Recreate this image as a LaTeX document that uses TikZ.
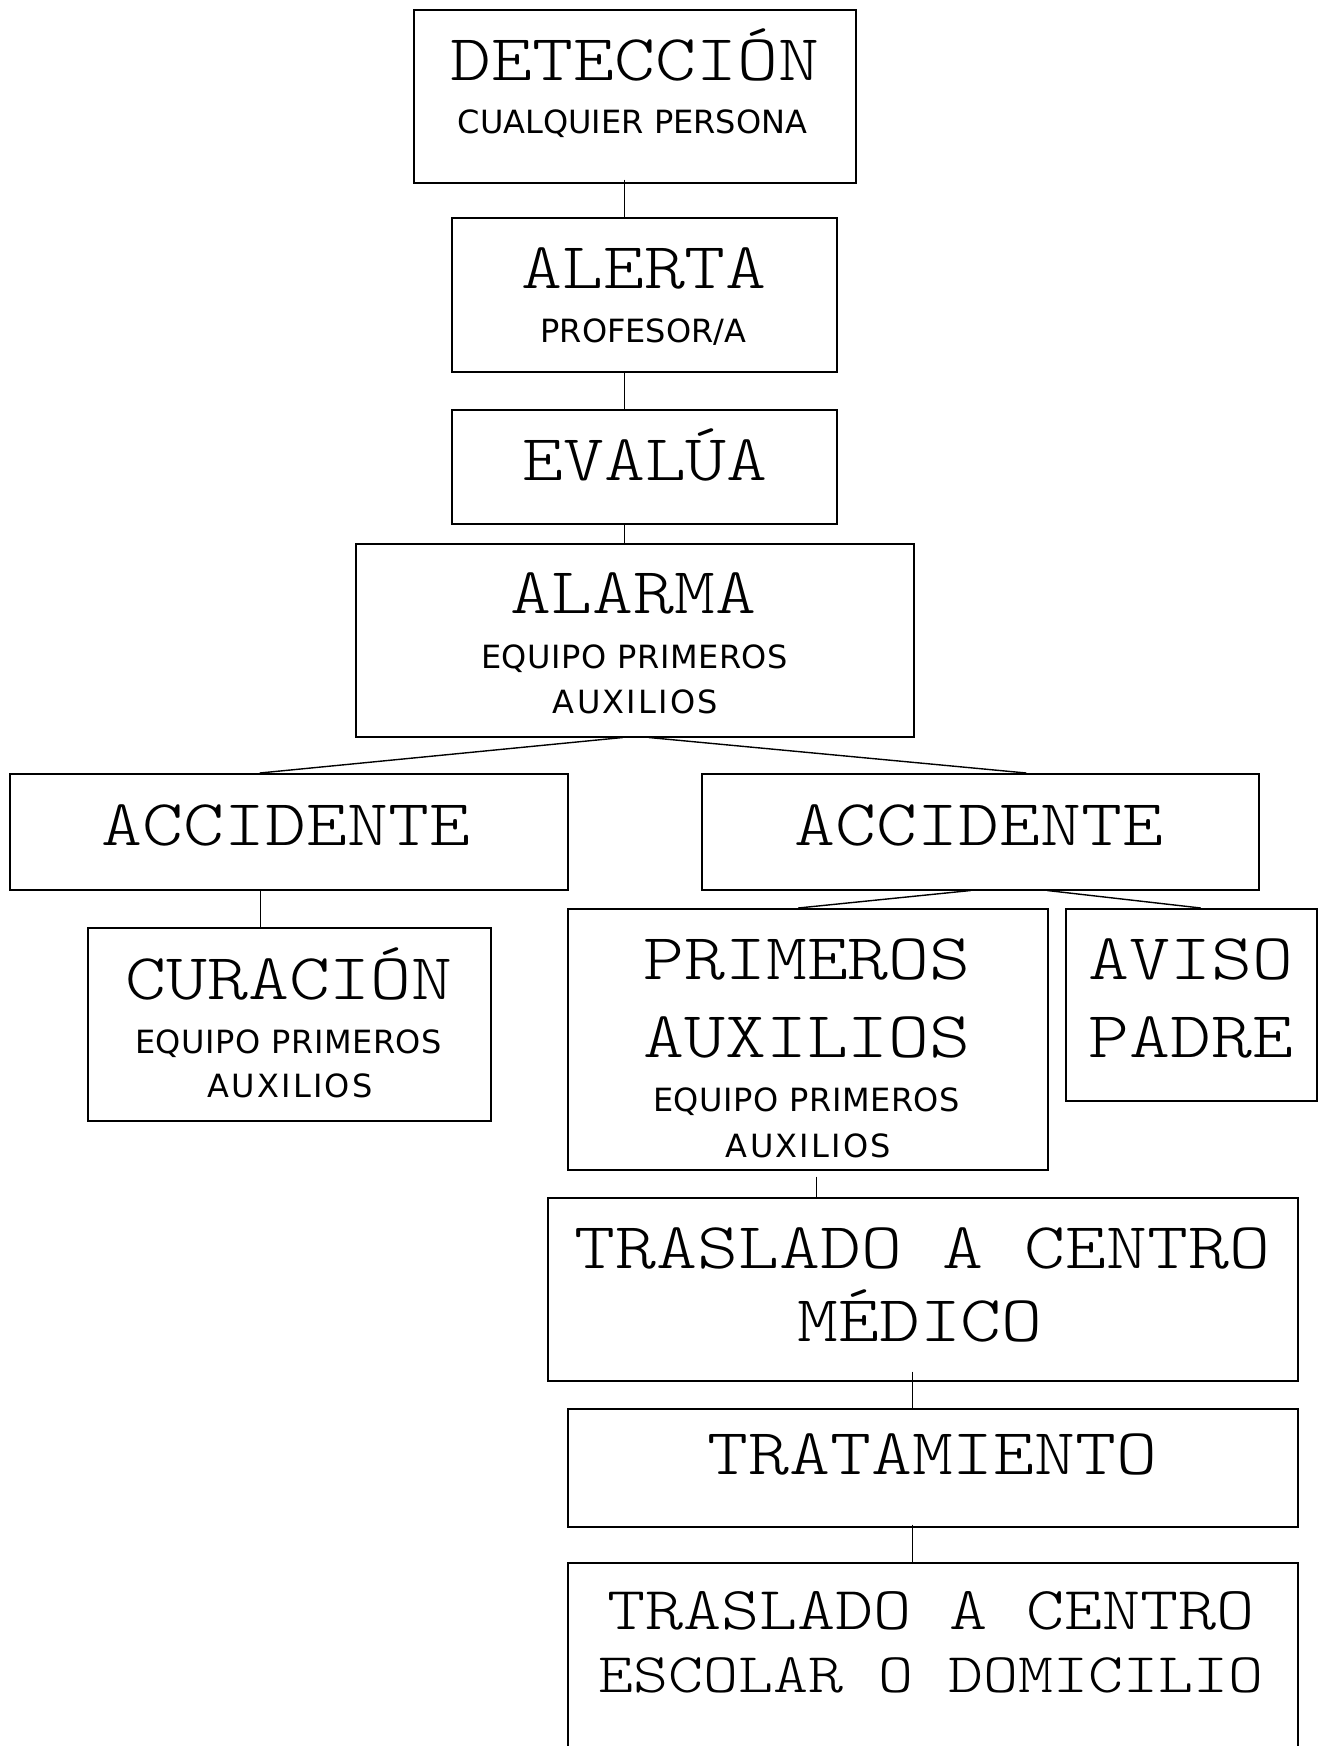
\documentclass[tikz,border=0pt]{standalone}
\usepackage{fontspec}
\newfontfamily\bigf[FakeStretch=1.19]{lmmonolt10-regular.otf}
\newfontfamily\smallf{DejaVu Sans}
\tikzset{
  box/.style={draw, line width=1.5pt, inner sep=0pt, anchor=north west},
  conn/.style={line width=1.4pt},
  big/.style={anchor=base, inner sep=0pt, font=\bigf\fontsize{65.5}{70}\selectfont},
  small/.style={anchor=base, inner sep=0pt, font=\smallf\fontsize{32}{34}\selectfont},
  wide/.style={font=\smallf\fontsize{32}{34}\selectfont\addfontfeature{LetterSpace=7}},
  eqp/.style={font=\smallf\fontsize{32}{34}\selectfont\addfontfeature{LetterSpace=1.8}},
}
\begin{document}
\begin{tikzpicture}[x=1pt,y=-1pt]
\useasboundingbox (0,0) rectangle (1325,1746);
\clip (0,0) rectangle (1325,1746);
% boxes
\node[box, minimum width=442pt, minimum height=173pt] (det) at (413,9) {};
\node[box, minimum width=385pt, minimum height=154pt] (alerta) at (451,217) {};
\node[box, minimum width=385pt, minimum height=114pt] (evalua) at (451,409) {};
\node[box, minimum width=558pt, minimum height=193pt] (alarma) at (355,543) {};
\node[box, minimum width=558pt, minimum height=116pt] (accL) at (9,773) {};
\node[box, minimum width=557pt, minimum height=116pt] (accR) at (701,773) {};
\node[box, minimum width=403pt, minimum height=193pt] (cura) at (87,927) {};
\node[box, minimum width=480pt, minimum height=261pt] (prim) at (567,908) {};
\node[box, minimum width=251pt, minimum height=192pt] (aviso) at (1065,908) {};
\node[box, minimum width=750pt, minimum height=183pt] (tras) at (547,1197) {};
\node[box, minimum width=730pt, minimum height=118pt] (trat) at (567,1408) {};
\node[box, minimum width=730pt, minimum height=240pt] (tras2) at (567,1562) {};
% texts
\node[big] (t-det) at (635,80) {DETECCIÓN};
\node[small] (s-det) at (632.5,133) {CUALQUIER PERSONA};
\node[big] (t-alerta) at (644,288) {ALERTA};
\node[small] (s-alerta) at (643.5,342) {PROFESOR/A};
\node[big] (t-evalua) at (645,480) {EVALÚA};
\node[big] (t-alarma) at (633.5,613) {ALARMA};
\node[small, eqp] (s-alarma1) at (634.5,668) {EQUIPO PRIMEROS};
\node[small, wide] (s-alarma2) at (635.5,713) {AUXILIOS};
\node[big] (t-accL) at (286,845) {ACCIDENTE};
\node[big] (t-accR) at (979,845) {ACCIDENTE};
\node[big] (t-cura) at (289,999) {CURACIÓN};
\node[small, eqp] (s-cura1) at (288.5,1053) {EQUIPO PRIMEROS};
\node[small, wide] (s-cura2) at (290,1097) {AUXILIOS};
\node[big] (t-prim1) at (807,979) {PRIMEROS};
\node[big] (t-prim2) at (807,1057) {AUXILIOS};
\node[small, eqp] (s-prim1) at (806.5,1111) {EQUIPO PRIMEROS};
\node[small, wide] (s-prim2) at (808.5,1157) {AUXILIOS};
\node[big] (t-aviso1) at (1191,979) {AVISO};
\node[big] (t-aviso2) at (1191,1057) {PADRE};
\node[big] (t-tras1) at (922.5,1268.5) {TRASLADO A CENTRO};
\node[big] (t-tras2) at (920,1341) {MÉDICO};
\node[big] (t-trat) at (932.5,1474) {TRATAMIENTO};
\node[big, font=\bigf\fontsize{61}{65}\selectfont] (t-fin1) at (931,1629) {TRASLADO A CENTRO};
\node[big, font=\bigf\fontsize{56}{60}\selectfont] (t-fin2) at (931,1692) {ESCOLAR O DOMICILIO};
% connectors
\draw[conn] ([xshift=-10pt,yshift=4pt]det.south) -- ([xshift=-19.5pt]alerta.north);
\draw[conn] ([xshift=-19.5pt]alerta.south) -- ([xshift=-19.5pt]evalua.north);
\draw[conn] ([xshift=-19.5pt]evalua.south) -- ([xshift=-10pt]alarma.north);
\draw[conn] ([xshift=-12pt]alarma.south) -- ([xshift=-29pt]accL.north);
\draw[conn] ([xshift=14pt]alarma.south) -- ([xshift=46pt]accR.north);
\draw[conn] ([xshift=-28.5pt]accL.south) -- ([xshift=-29pt]cura.north);
\draw[conn] ([xshift=-9.5pt]accR.south) -- ([xshift=-9.5pt]prim.north);
\draw[conn] ([xshift=67pt]accR.south) -- ([xshift=9.5pt]aviso.north);
\draw[conn] ([xshift=9pt,yshift=-6pt]prim.south) -- ([xshift=-106pt]tras.north);
\draw[conn] ([xshift=-10.5pt,yshift=10pt]tras.south) -- ([xshift=-20.5pt]trat.north);
\draw[conn] ([xshift=-20.5pt,yshift=3pt]trat.south) -- ([xshift=-20.5pt]tras2.north);
\end{tikzpicture}
\end{document}
